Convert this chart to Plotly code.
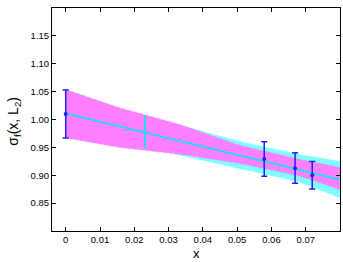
import plotly.graph_objects as go

# Data
band_x = [0.0, 0.0157, 0.0333, 0.0507, 0.068, 0.08]
mag_upper = [1.054, 1.021, 0.991, 0.954, 0.929, 0.914]
mag_lower = [0.967, 0.950, 0.9375, 0.921, 0.899, 0.874]
cyan_upper = [1.036, 1.014, 0.990, 0.961, 0.9375, 0.925]
cyan_lower = [0.986, 0.960, 0.935, 0.912, 0.888, 0.859]

fit_x = [0.0, 0.08]
fit_y = [1.011, 0.892]

blue_x = [0.0, 0.0579, 0.0669, 0.0719]
blue_y = [1.010, 0.929, 0.9125, 0.900]
blue_err_plus = [0.043, 0.031, 0.028, 0.0245]
blue_err_minus = [0.043, 0.031, 0.027, 0.0245]

cyan_pt_x = [0.0231]
cyan_pt_y = [0.978]
cyan_err_plus = [0.029]
cyan_err_minus = [0.030]

xtick_vals = [0, 0.01, 0.02, 0.03, 0.04, 0.05, 0.06, 0.07]
xtick_text = ["0", "0.01", "0.02", "0.03", "0.04", "0.05", "0.06", "0.07"]
ytick_vals = [0.85, 0.90, 0.95, 1.00, 1.05, 1.10, 1.15]
ytick_text = ["0.85", "0.90", "0.95", "1.00", "1.05", "1.10", "1.15"]

CYAN_BAND = "#80FFFF"
MAGENTA = "#FF80FF"
CYAN_LINE = "#22DDEE"
BLUE = "#2222EE"
FONT = "Liberation Sans"

fig = go.Figure()

# cyan band
fig.add_trace(go.Scatter(x=band_x + band_x[::-1], y=cyan_upper + cyan_lower[::-1],
                         fill="toself", fillcolor=CYAN_BAND, mode="lines",
                         line=dict(width=0), hoverinfo="skip", showlegend=False))
# magenta band
fig.add_trace(go.Scatter(x=band_x + band_x[::-1], y=mag_upper + mag_lower[::-1],
                         fill="toself", fillcolor=MAGENTA, mode="lines",
                         line=dict(width=0.6, color="#C89CFF", dash="dot"),
                         hoverinfo="skip", showlegend=False))
# fit line
fig.add_trace(go.Scatter(x=fit_x, y=fit_y, mode="lines",
                         line=dict(color=CYAN_LINE, width=2), hoverinfo="skip",
                         showlegend=False))
# cyan point
fig.add_trace(go.Scatter(x=cyan_pt_x, y=cyan_pt_y, mode="markers",
                         marker=dict(color=CYAN_LINE, size=4, symbol="circle"),
                         error_y=dict(type="data", array=cyan_err_plus, arrayminus=cyan_err_minus,
                                      color=CYAN_LINE, thickness=2, width=0),
                         showlegend=False))
# blue points
fig.add_trace(go.Scatter(x=blue_x, y=blue_y, mode="markers",
                         marker=dict(color=BLUE, size=4, symbol="circle"),
                         error_y=dict(type="data", array=blue_err_plus, arrayminus=blue_err_minus,
                                      color=BLUE, thickness=1.5, width=3),
                         showlegend=False))

axis_common = dict(showline=True, linecolor="black", linewidth=1, mirror="ticks",
                   ticks="inside", ticklen=4, tickcolor="black", showgrid=False,
                   zeroline=False, tickfont=dict(family=FONT, size=9.5, color="black"))

fig.update_layout(
    width=343, height=262,
    margin=dict(l=52, r=3, t=8, b=31),
    paper_bgcolor="white", plot_bgcolor="white",
    xaxis=dict(range=[-0.004, 0.08], tickvals=xtick_vals, ticktext=xtick_text,
               **axis_common),
    yaxis=dict(range=[0.80, 1.20], tickvals=ytick_vals, ticktext=ytick_text,
               **axis_common),
    annotations=[
        dict(text="x", xref="paper", yref="paper", x=0.5, y=0, xanchor="center",
             yanchor="middle", yshift=-22, showarrow=False,
             font=dict(family=FONT, size=13, color="black")),
        dict(text="σ<sub>f</sub>(x, L<sub>2</sub>)", xref="paper", yref="paper",
             x=0, y=0.49, xanchor="center", yanchor="middle", xshift=-38,
             textangle=-90, showarrow=False,
             font=dict(family=FONT, size=14, color="black")),
    ],
)

fig.write_html("out.html", config={"displayModeBar": False},
               post_script="document.body.style.margin='0';document.body.style.padding='0';")
